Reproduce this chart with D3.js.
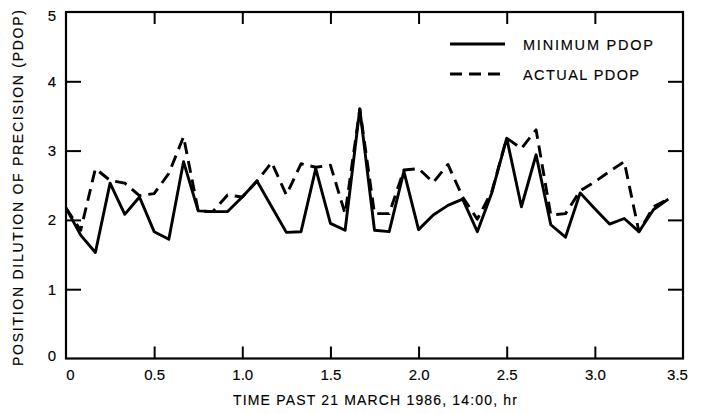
<!DOCTYPE html>
<html>
<head>
<meta charset="utf-8">
<script src="https://cdn.jsdelivr.net/npm/d3@7"></script>
<style>
  html, body { margin: 0; padding: 0; background: #fff; }
  svg { display: block; }
  text { font-family: "Liberation Sans", Arial, Helvetica, sans-serif; fill: #000; stroke: #000; stroke-width: 0.15px; }
</style>
</head>
<body>
<svg id="chart" width="702" height="414"></svg>
<script>
// Samples every 5 minutes (1/12 hr) after 14:00
const times = d3.range(42).map(k => k / 12);
const minimumPdop = [
  2.17, 1.78, 1.53, 2.53, 2.08, 2.33, 1.83, 1.72, 2.84, 2.13,
  2.12, 2.12, 2.33, 2.56, 2.19, 1.82, 1.83, 2.74, 1.95, 1.85,
  3.60, 1.85, 1.83, 2.70, 1.86, 2.07, 2.21, 2.30, 1.83, 2.40,
  3.18, 2.19, 2.94, 1.93, 1.75, 2.39, 2.16, 1.94, 2.02, 1.83,
  2.15, 2.30
];
const actualPdop = [
  2.17, 1.85, 2.74, 2.57, 2.53, 2.35, 2.38, 2.67, 3.20, 2.13,
  2.12, 2.36, 2.33, 2.56, 2.83, 2.36, 2.81, 2.76, 2.79, 2.09,
  3.60, 2.09, 2.09, 2.72, 2.74, 2.54, 2.80, 2.33, 2.01, 2.42,
  3.18, 3.03, 3.30, 2.07, 2.09, 2.42, 2.55, 2.70, 2.84, 1.83,
  2.19, 2.30
];
const xTicks = [0, 0.5, 1.0, 1.5, 2.0, 2.5, 3.0, 3.5];
const yTicks = [0, 1, 2, 3, 4, 5];
const seriesNames = ["MINIMUM PDOP", "ACTUAL PDOP"];
const xTitle = "TIME PAST 21 MARCH 1986, 14:00, hr";
const yTitle = "POSITION DILUTION OF PRECISION (PDOP)";

const svg = d3.select("#chart");
const plotLeft = 66, plotRight = 683, plotTop = 12, plotBottom = 358.5;

const x = d3.scaleLinear().domain([0, 3.5]).range([plotLeft, plotRight]);
const y = d3.scaleLinear().domain([0, 5]).range([plotBottom, plotTop]);

const ink = "#000";
const lineWidth = 2.9;
const dashPattern = "12,7";

// Inward ticks on all four sides, drawn with d3 axes
const fmtX = d => d === 0 ? "0" : d3.format(".1f")(d);
const inner = xTicks.slice(1, -1);
const innerY = yTicks.slice(1, -1);

function styleTicks(g) {
  g.select(".domain").remove();
  g.selectAll("line").attr("stroke", ink).attr("stroke-width", 2);
}

svg.append("g").attr("transform", `translate(0,${plotBottom})`)
  .call(d3.axisTop(x).tickValues(inner).tickSize(12).tickFormat(""))
  .call(styleTicks);
svg.append("g").attr("transform", `translate(0,${plotTop})`)
  .call(d3.axisBottom(x).tickValues(inner).tickSize(12).tickFormat(""))
  .call(styleTicks);
svg.append("g").attr("transform", `translate(${plotLeft},0)`)
  .call(d3.axisRight(y).tickValues(innerY).tickSize(15).tickFormat(""))
  .call(styleTicks);
svg.append("g").attr("transform", `translate(${plotRight},0)`)
  .call(d3.axisLeft(y).tickValues(innerY).tickSize(15).tickFormat(""))
  .call(styleTicks);

// Tick labels
svg.append("g").attr("transform", `translate(0,${plotBottom})`)
  .call(d3.axisBottom(x).tickValues(xTicks).tickSize(0).tickPadding(11).tickFormat(fmtX))
  .call(g => g.select(".domain").remove())
  .call(g => g.selectAll("text").attr("font-size", 15).attr("fill", ink)
    .attr("font-family", "'Liberation Sans', Arial, sans-serif")
    .attr("dx", d => d === 0 ? 4 : (d === 3.5 ? -6 : 0)));
svg.append("g").attr("transform", `translate(${plotLeft},0)`)
  .call(d3.axisLeft(y).tickValues(yTicks).tickSize(0).tickPadding(10).tickFormat(d3.format("d")))
  .call(g => g.select(".domain").remove())
  .call(g => g.selectAll("text").attr("font-size", 15).attr("fill", ink)
    .attr("font-family", "'Liberation Sans', Arial, sans-serif")
    .attr("dy", d => d === 5 ? "0.55em" : (d === 0 ? "0.15em" : "0.32em")));

// Frame
svg.append("rect")
  .attr("x", plotLeft).attr("y", plotTop)
  .attr("width", plotRight - plotLeft).attr("height", plotBottom - plotTop)
  .attr("fill", "none").attr("stroke", ink).attr("stroke-width", 2.2);

// Series
const line = d3.line().x((d, i) => x(times[i])).y(d => y(d));
svg.append("path").datum(actualPdop)
  .attr("d", line).attr("fill", "none").attr("stroke", ink)
  .attr("stroke-width", lineWidth).attr("stroke-dasharray", dashPattern)
  .attr("stroke-linejoin", "round");
svg.append("path").datum(minimumPdop)
  .attr("d", line).attr("fill", "none").attr("stroke", ink)
  .attr("stroke-width", lineWidth).attr("stroke-linejoin", "round");

// Legend
const legend = svg.append("g");
[[0, null], [1, dashPattern]].forEach(([i, dash]) => {
  const ly = 44 + i * 30;
  legend.append("line")
    .attr("x1", 450).attr("x2", 505).attr("y1", ly).attr("y2", ly)
    .attr("stroke", ink).attr("stroke-width", lineWidth)
    .attr("stroke-dasharray", dash);
  legend.append("text")
    .attr("x", 523).attr("y", ly + 5.5)
    .attr("font-size", 14.5)
    .attr("textLength", i === 0 ? 130 : 116).attr("lengthAdjust", "spacing")
    .text(seriesNames[i]);
});

// Axis titles
svg.append("text")
  .attr("x", 375).attr("y", 405)
  .attr("text-anchor", "middle").attr("font-size", 14)
  .attr("textLength", 284).attr("lengthAdjust", "spacing")
  .text(xTitle);
svg.append("text")
  .attr("transform", "translate(23,188) rotate(-90)")
  .attr("text-anchor", "middle").attr("font-size", 14)
  .attr("textLength", 356).attr("lengthAdjust", "spacing")
  .text(yTitle);
</script>
</body>
</html>
